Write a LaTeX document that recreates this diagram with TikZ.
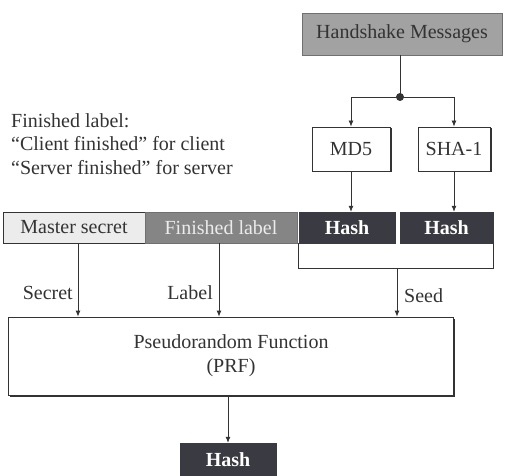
\documentclass[tikz,border=0pt]{standalone}
\usepackage{fontspec}
\setmainfont{Liberation Serif}
\usetikzlibrary{arrows.meta, positioning, shadows}
\definecolor{hsgray}{HTML}{A2A2A2}
\definecolor{lblgray}{HTML}{858585}
\definecolor{keygray}{HTML}{ECECEC}
\definecolor{hashdark}{HTML}{3A3B42}
\definecolor{inkgray}{HTML}{333333}

\begin{document}
\begin{tikzpicture}[
    x=1pt, y=-1pt,
    every node/.style={font=\fontsize{20}{24}\selectfont, text=inkgray, inner sep=2pt},
    plainbox/.style={rectangle, draw=inkgray, fill=white, line width=0.8pt},
    boxshadow/.style={drop shadow={shadow xshift=1.5pt, shadow yshift=-1.5pt, fill=inkgray, opacity=1}},
    shadebox/.style={rectangle, draw=inkgray!70, fill=hsgray, line width=0.6pt},
    hashbox/.style={rectangle, draw=hashdark, fill=hashdark, text=white, font=\fontsize{20}{24}\selectfont\bfseries},
    flow/.style={draw=inkgray, line width=0.8pt, -{Latex[length=6pt, width=5pt]}},
    link/.style={draw=inkgray, line width=0.8pt},
]
\useasboundingbox (0,0) rectangle (509,476);
% hash of the handshake messages
\node[shadebox, minimum width=200, minimum height=42] (hsm) at (402,34) {Handshake Messages};
\coordinate (split) at (400,97);
\node[plainbox, boxshadow, minimum width=78, minimum height=44] (md5) at (351,149) {MD5};
\node[plainbox, boxshadow, minimum width=72, minimum height=44] (sha) at (454,149) {SHA-1};
\fill[inkgray] (split) circle (4);
\draw[link] (hsm.south -| split) -- (split);
\draw[flow] (split) -| (md5.north);
\draw[flow] (split) -| (sha.north);
% PRF inputs
\node[plainbox, fill=keygray, minimum width=142, minimum height=31] (master) at (74,227.5) {Master secret};
\node[shadebox, fill=lblgray, text=keygray, minimum width=152, minimum height=31] (finlab) at (221,227.5) {Finished label};
\node[hashbox, minimum width=96, minimum height=31] (hash1) at (347,227.5) {Hash};
\node[hashbox, minimum width=93, minimum height=31] (hash2) at (446.5,227.5) {Hash};
\draw[flow] (md5.south) -- (md5.south |- hash1.north);
\draw[flow] (sha.south) -- (sha.south |- hash2.north);
\coordinate (seedtop) at (397,268);
\draw[link] (hash1.south west) -- (hash1.south west |- seedtop) -- (hash2.south east |- seedtop) -- (hash2.south east);
\node[anchor=north west, align=left, inner sep=0pt, font=\fontsize{20}{23.5}\selectfont] (note) at (11,113) {Finished label:\\``Client finished'' for client\\``Server finished'' for server};
% pseudorandom function
\node[plainbox, boxshadow, minimum width=445, minimum height=78, align=center] (prf) at (231,356) {Pseudorandom Function\\(PRF)};
\draw[flow] (master.south -| 78,0) -- (78,0 |- prf.north);
\draw[flow] (finlab.south -| 219,0) -- (219,0 |- prf.north);
\draw[flow] (seedtop) -- (seedtop |- prf.north);
\node[anchor=base east] (secretlbl) at (75,299) {Secret};
\node[anchor=base east] (labellbl) at (215,299) {Label};
\node[anchor=base west] (seedlbl) at (402,302) {Seed};
% output
\node[hashbox, minimum width=96, minimum height=33] (outhash) at (228,459.5) {Hash};
\draw[flow] (prf.south -| outhash.north) -- (outhash.north);
\end{tikzpicture}
\end{document}
